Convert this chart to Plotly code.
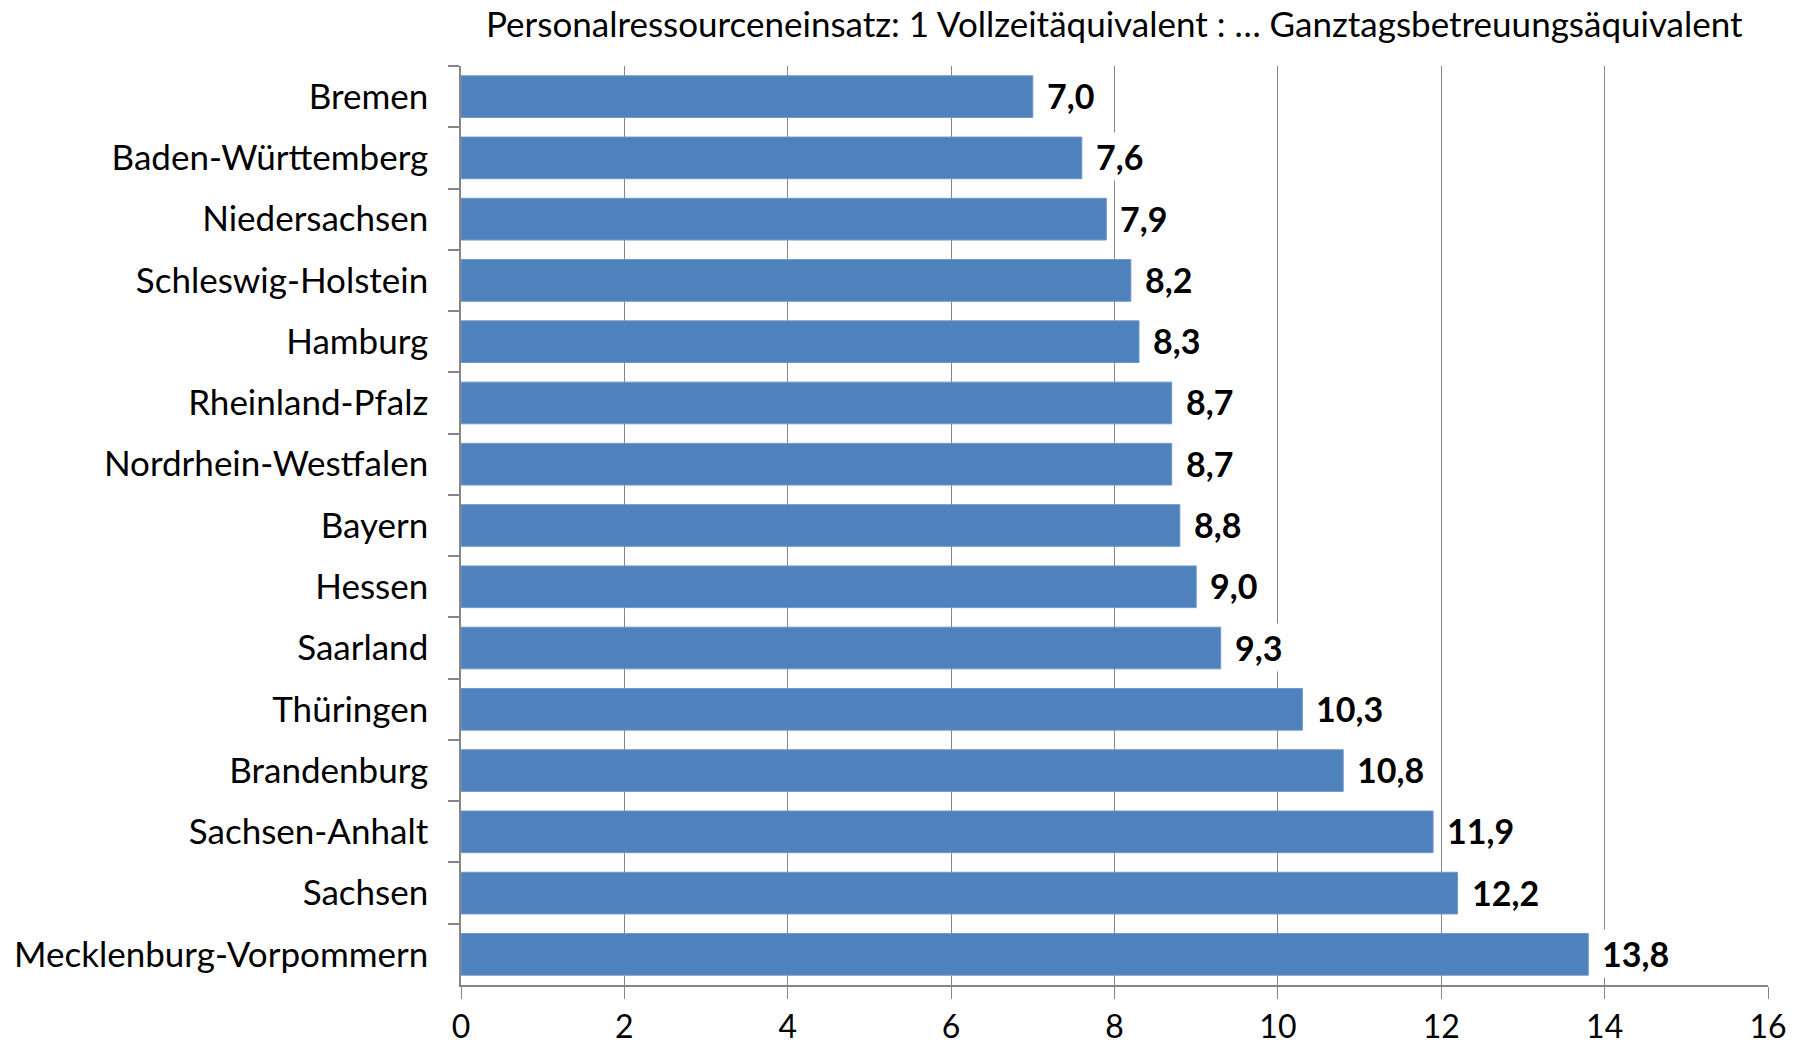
import plotly.graph_objects as go

states = ["Bremen", "Baden-Württemberg", "Niedersachsen", "Schleswig-Holstein", "Hamburg",
          "Rheinland-Pfalz", "Nordrhein-Westfalen", "Bayern", "Hessen", "Saarland",
          "Thüringen", "Brandenburg", "Sachsen-Anhalt", "Sachsen", "Mecklenburg-Vorpommern"]
values = [7.0, 7.6, 7.9, 8.2, 8.3, 8.7, 8.7, 8.8, 9.0, 9.3, 10.3, 10.8, 11.9, 12.2, 13.8]
x_ticks = [0, 2, 4, 6, 8, 10, 12, 14, 16]
title_text = "Personalressourceneinsatz: 1 Vollzeitäquivalent : … Ganztagsbetreuungsäquivalent"

FONT = "Lato"
grid_col = "#868686"

fig = go.Figure()
fig.add_trace(go.Bar(
    y=states, x=values, orientation="h",
    marker=dict(color="#4F81BD", line=dict(color="#6F96C8", width=1)),
    hoverinfo="skip",
))

annotations = []
for s, v in zip(states, values):
    annotations.append(dict(
        x=v, y=s, xref="x", yref="y", text="<b>" + f"{v:.1f}".replace(".", ",") + "</b>",
        showarrow=False, xanchor="left", yanchor="middle", xshift=10, yshift=1,
        font=dict(family=FONT, size=34, color="black"),
        bgcolor="white", borderpad=3,
    ))

fig.update_layout(
    width=1806, height=1048,
    margin=dict(l=461, r=38, t=66, b=63, autoexpand=False),
    paper_bgcolor="white", plot_bgcolor="white",
    showlegend=False,
    bargap=0.32,
    title=dict(text=title_text, x=0.617, xref="container", xanchor="center",
               y=1 - 25 / 1048, yref="container", yanchor="middle",
               font=dict(family=FONT, size=35, color="black")),
    annotations=annotations,
    font=dict(family=FONT, color="black"),
)
fig.update_xaxes(
    range=[0, 16], tickvals=x_ticks, ticktext=[str(t) for t in x_ticks],
    showgrid=True, gridcolor=grid_col, gridwidth=1.3,
    showline=True, linecolor=grid_col, linewidth=2,
    ticks="outside", ticklen=12, tickcolor=grid_col, tickwidth=1.3,
    ticklabelstandoff=1, automargin=False,
    tickfont=dict(family=FONT, size=32, color="black"),
    zeroline=False,
)
fig.update_yaxes(
    autorange="reversed", type="category",
    showline=True, linecolor=grid_col, linewidth=1.5,
    ticks="outside", ticklen=11, tickcolor=grid_col, tickwidth=1.5,
    tickson="boundaries", ticklabelstandoff=24, automargin=False,
    tickfont=dict(family=FONT, size=35, color="black"),
    showgrid=False,
)

fig.write_html("out.html")
